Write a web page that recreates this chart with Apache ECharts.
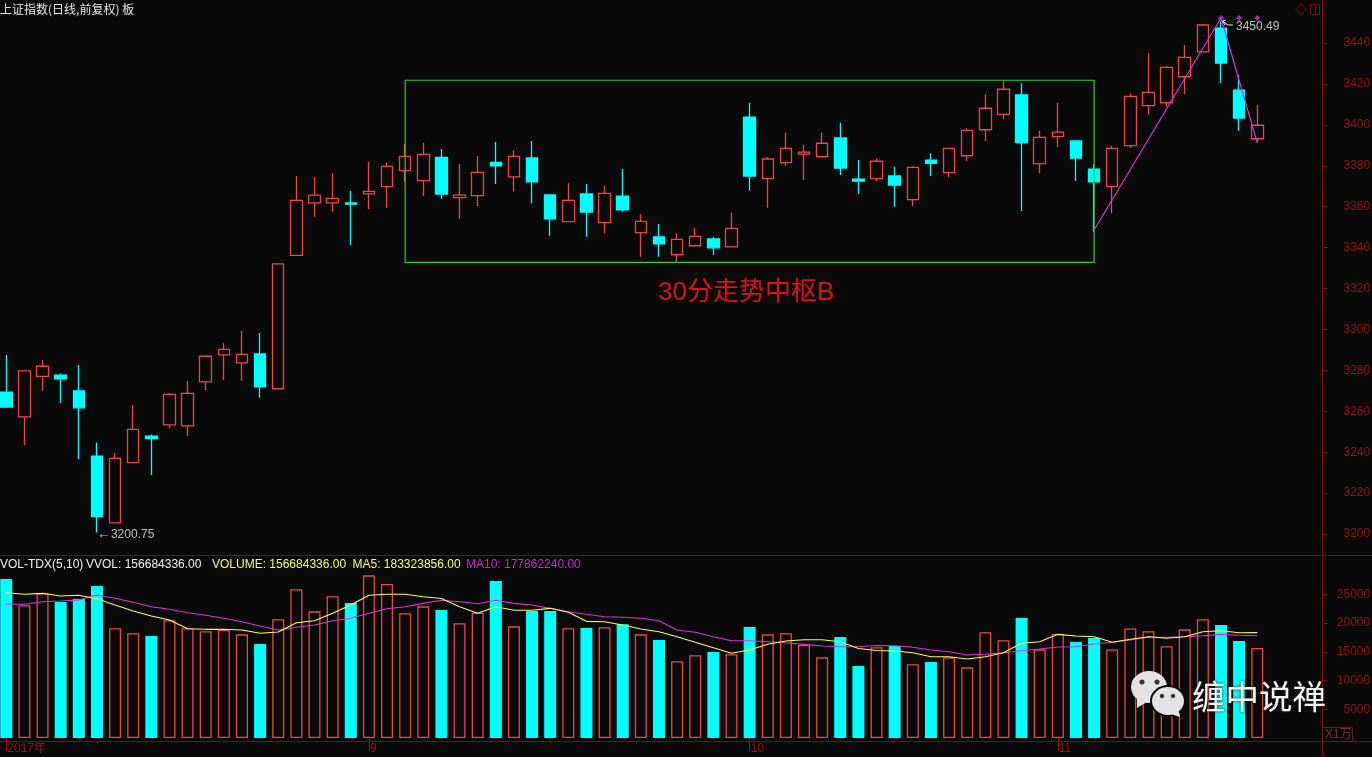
<!DOCTYPE html>
<html><head><meta charset="utf-8">
<style>html,body{margin:0;padding:0;background:#0a0a0a}#c{width:1372px;height:757px}</style>
<script src="https://cdn.jsdelivr.net/npm/echarts@6/dist/echarts.min.js"></script>
</head><body><div id="c"></div>
<script>
// ---- data ----
const opens=[3269.4,3257.3,3277.1,3277.7,3269.9,3238.1,3205.5,3234.9,3247.9,3253.4,3252.9,3274.4,3287.6,3283.7,3288,3271,3336.2,3361.9,3361.9,3361.8,3366.3,3369.8,3377.6,3372.7,3384.1,3364.4,3365.4,3381.7,3374.6,3383.8,3365.7,3352.7,3366.2,3352.2,3365.2,3347.3,3345.2,3336.5,3340.9,3344.2,3340.4,3403.8,3373.7,3381.5,3385.7,3384.4,3393.6,3373.5,3373.7,3375,3363.4,3382.8,3376.6,3384.9,3397.6,3405.1,3414.6,3381,3394.2,3392.1,3378.4,3369.8,3389.8,3409.4,3410.8,3423.5,3435.7,3447.3,3417,3393.2];
const closes=[3262.1,3279.7,3282,3275.8,3261.7,3208.5,3237,3251.2,3246.6,3268.3,3268.8,3286.9,3290.3,3287.8,3272,3332,3363.1,3365.6,3364.1,3361.3,3367.5,3379.7,3384.6,3385.6,3366.2,3365.6,3376.8,3379.9,3384.6,3372.1,3354,3363.1,3357.4,3366.5,3358.4,3352.8,3341.8,3344,3345.5,3339.9,3349.4,3375,3383.3,3388.5,3386.7,3391,3378.9,3372.5,3382.2,3370.6,3379.2,3381.2,3388.5,3397.3,3408.1,3417.4,3391.3,3393.9,3396.4,3383.8,3372.1,3388.5,3413.9,3415.9,3428.1,3433,3448.8,3430.2,3403.3,3399.8];
const lows=[3261.7,3243.5,3270,3264.2,3236.7,3200.75,3205.5,3234.9,3228.8,3251.7,3247.9,3270.4,3275.3,3274.9,3266.6,3271,3336.2,3355.1,3357.5,3341.3,3358.9,3359.5,3372.2,3365.2,3363.9,3354,3360.3,3371.1,3367.3,3361.6,3345.8,3352.7,3345.3,3347,3357.5,3335.5,3335.5,3332.8,3340.9,3336.4,3340.4,3367.8,3359.5,3379.9,3373,3384.4,3375.5,3366.2,3372.5,3360,3360.3,3375,3374.4,3382.3,3392.1,3402.7,3357.9,3376.3,3389,3372.5,3347.8,3356.8,3388.8,3405.1,3408.9,3415.1,3435.7,3420.6,3397.1,3391.3];
const highs=[3287.5,3279.9,3285.1,3278.5,3282.6,3244.8,3239.7,3263.1,3248.7,3269.1,3274.8,3287.2,3293.2,3299.2,3298.2,3332,3375,3374.4,3376.3,3367.7,3382,3381.5,3390.6,3391.1,3388.2,3380.9,3384.8,3391.6,3387.6,3392.1,3366,3371.4,3371.1,3370.2,3378.4,3356.3,3351.5,3347,3349.7,3345.3,3357,3410.8,3384.3,3396.2,3390.1,3396.2,3401,3382.8,3383.6,3379.5,3379.9,3386.1,3388.5,3398.3,3414.9,3421.4,3420.3,3397.1,3410.8,3392.1,3380.7,3389.7,3415.1,3435,3428.8,3439,3449.3,3450.49,3424.4,3409.7];
const volumes=[27650,23080,25160,23650,24170,26430,19080,18210,17740,20470,19080,18560,18780,18030,16350,20640,25860,22030,24640,23480,28290,26780,21690,22900,22260,19950,21790,27300,19420,22090,22090,19080,19130,19250,19770,18030,17040,13340,14380,14960,14560,19300,18030,18210,16170,14030,17560,12520,15770,16000,12820,13220,14030,12290,18380,16990,20870,15420,18090,16690,17390,15390,19040,18560,15950,18900,20640,19650,16870,15668];
const ma5=[25270,24990,25160,24690,24820,24220,23130,22090,21220,20520,19010,18900,18900,18780,18210,18430,20050,20400,21690,23130,24820,24990,24990,24570,24260,22830,21690,22830,22210,22210,22550,21860,20290,20220,19650,18960,18490,17620,16640,15700,14730,15300,16290,16870,17090,17090,16750,15560,15220,15130,14830,14140,14140,13740,14140,14830,16470,16750,18030,17740,17620,16640,17160,17620,17340,17620,18490,18660,18310,18332];
const ma10=[23250,23250,23700,23820,24000,24870,24290,23600,22830,22380,21790,21340,20820,20220,19480,18780,19250,19650,20400,20820,21690,22490,22830,23420,23950,23700,23360,23950,23420,23130,22550,21960,21510,21090,20990,20820,20400,18780,18380,17620,16920,16920,16750,16570,16290,16000,15880,15880,16090,16050,15770,15300,15010,14430,14560,14830,15180,15480,15820,15880,16350,16660,17040,17510,17510,17620,17790,18030,17860,17786];
const priceTicks=[3200,3220,3240,3260,3280,3300,3320,3340,3360,3380,3400,3420,3440];
const volumeTicks=[5000,10000,15000,20000,25000];
const monthLabels={0:'2017年',20:'9',41:'10',58:'11'};
const weekTicks=[5,10,15,25,30,36,45,49,54,63];
const zigzag=[[60,3348.6],[67,3452.2],[69,3391.3]];
const signals=[[67,3452.2],[68,3452.2],[69,3452.2]];
const lowNote=[5,3200.75], highNote=[67,3450.49];
const boxX=[22,60], boxY=[3332.8,3421.8];
const slots=Array.from({length:73},(_,i)=>'d'+i);   // 70 sessions plus 3 empty slots on the right

// ---- styles ----
const BG='#0a0a0a',RED='#ee4646',CYAN='#00ffff',AXIS='#860808',LAB='#981010',LATIN='"Liberation Sans","Noto Sans CJK SC",sans-serif';
const L=-2.77,W=1323.49;
const candles=opens.map((o,i)=>[o,closes[i],lows[i],highs[i]]);
const volBars=volumes.map((v,i)=>{
  const up=closes[i]>opens[i];
  return {value:v,itemStyle:{color:up?BG:CYAN,borderColor:up?RED:CYAN,borderWidth:1.3}};
});
const T=(text,x,y,fill,font,extra)=>({type:'text',silent:true,z:50,style:Object.assign({text,x,y,fill,font:font||('12px '+LATIN),verticalAlign:'middle',align:'left'},extra||{})});
const line=(x1,y1,x2,y2,c)=>({type:'line',silent:true,z:40,shape:{x1,y1,x2,y2},style:{stroke:c||AXIS,lineWidth:1}});
const ell=(cx,cy,rx,ry,fill,stroke)=>({type:'ellipse',silent:true,z:60,shape:{cx,cy,rx,ry},style:{fill,stroke:stroke||null,lineWidth:stroke?2:0}});
const poly=(pts,fill)=>({type:'polygon',silent:true,z:60,shape:{points:pts},style:{fill}});
const ICON='#e3e3e3';
const graphic=[
  line(0,555.5,1372,555.5),line(0,741.5,1372,741.5),line(1322.5,0,1322.5,757),
  T('上证指数(日线,前复权) 板',0,9,'#e6e6e6','12px "Noto Sans CJK SC"'),
  T('VOL-TDX(5,10)',0,564.5,'#f0f0f0'),T('VVOL: 156684336.00',86,564.5,'#f0f0f0'),
  T('VOLUME: 156684336.00',212,564.5,'#ffff50'),T('MA5: 183323856.00',352.5,564.5,'#ffff50'),
  T('MA10: 177862240.00',466,564.5,'#c828c8'),
  T('30分走势中枢B',658,292.5,'#e01010','26px '+LATIN),
  {type:'polygon',silent:true,z:50,shape:{points:[[1301,4],[1306,9.5],[1301,15],[1296,9.5]]},style:{fill:'none',stroke:'#6a1010',lineWidth:1}},
  {type:'rect',silent:true,z:50,shape:{x:1310.5,y:4.5,width:9,height:10},style:{fill:'none',stroke:'#6a1010',lineWidth:1}},
  line(1315.5,4.5,1315.5,14.5,'#6a1010'),
  {type:'rect',silent:true,z:45,shape:{x:1322.5,y:727.5,width:30,height:14},style:{fill:'none',stroke:'#5a2020',lineWidth:1}},
  T('X1万',1325,735,'#7a2c2c','12px '+LATIN),
  ell(1149,687,18,16,ICON),poly([[1137,697],[1137,708],[1147,702]],ICON),
  ell(1168,701,17,15,ICON,BG),poly([[1171,714],[1180,717],[1178,708]],ICON),
  ell(1142,682,2.6,2.6,'#333'),ell(1157,682,2.6,2.6,'#333'),
  ell(1162,696,2.2,2.2,'#333'),ell(1173,696,2.2,2.2,'#333'),
  T('缠中说禅',1192,696,'#f6f6f6','33.5px "Noto Sans CJK SC"',{textShadowColor:'#222',textShadowBlur:3}),
  // slanted arrow of the high-price note
  {type:'polyline',silent:true,z:30,shape:{points:[[1233,25],[1228,25],[1223,21.5]]},style:{fill:'none',stroke:'#e8e8e8',lineWidth:1}},
  {type:'polyline',silent:true,z:30,shape:{points:[[1226,20],[1222.5,21],[1225,25]]},style:{fill:'none',stroke:'#e8e8e8',lineWidth:1}}
];

const chart=echarts.init(document.getElementById('c'),null,{renderer:'canvas'});
chart.setOption({
  animation:false,backgroundColor:BG,graphic,
  grid:[{left:L,width:W,top:2.08,height:552.42,outerBoundsMode:'none'},{left:L,width:W,top:554,height:184,outerBoundsMode:'none'}],
  xAxis:[
    {type:'category',data:slots,gridIndex:0,axisLine:{show:false},axisTick:{show:false},axisLabel:{show:false},splitLine:{show:false}},
    {type:'category',data:slots,gridIndex:1,offset:3,axisLine:{show:false},
     axisTick:{show:true,alignWithLabel:true,length:13,interval:i=>monthLabels[i]!==undefined,lineStyle:{color:'#a01010'}},
     axisLabel:{interval:i=>monthLabels[i]!==undefined,formatter:(v,i)=>monthLabels[i]||'',align:'left',margin:2,color:LAB,fontSize:12,fontFamily:LATIN,padding:[0,0,0,1]},splitLine:{show:false}},
    {type:'category',data:slots,gridIndex:1,position:'bottom',offset:3,axisLine:{show:false},
     axisTick:{show:true,alignWithLabel:true,length:2,interval:i=>weekTicks.includes(i),lineStyle:{color:AXIS}},axisLabel:{show:false},splitLine:{show:false}}
  ],
  yAxis:[
    {type:'value',gridIndex:0,position:'right',min:3190,max:3460,offset:2,axisLine:{show:false},
     axisTick:{show:true,length:5,customValues:priceTicks,lineStyle:{color:AXIS}},
     axisLabel:{customValues:priceTicks,formatter:v=>String(v),align:'right',margin:47.5,padding:[2,0,0,0],color:LAB,fontSize:12,fontFamily:LATIN},splitLine:{show:false}},
    {type:'value',gridIndex:1,position:'right',min:0,max:32000,offset:2,axisLine:{show:false},
     axisTick:{show:true,length:5,customValues:volumeTicks,lineStyle:{color:AXIS}},
     axisLabel:{customValues:volumeTicks,formatter:v=>String(v),align:'right',margin:47.5,padding:[1,0,0,0],color:LAB,fontSize:12,fontFamily:LATIN},splitLine:{show:false}}
  ],
  series:[
    {name:'K',type:'candlestick',xAxisIndex:0,yAxisIndex:0,data:candles,barWidth:12,z:3,
     itemStyle:{color:BG,color0:CYAN,borderColor:RED,borderColor0:CYAN,borderWidth:1.3}},
    {name:'zigzag',type:'line',xAxisIndex:0,yAxisIndex:0,data:zigzag,symbol:'none',z:6,lineStyle:{color:'#e030e0',width:1.2},
     markArea:{silent:true,z:5,itemStyle:{color:'rgba(0,0,0,0)',borderColor:'#2fd02f',borderWidth:1.2},
       data:[[{xAxis:slots[boxX[0]],yAxis:boxY[1]},{xAxis:slots[boxX[1]],yAxis:boxY[0]}]]}},
    {name:'signals',type:'scatter',xAxisIndex:0,yAxisIndex:0,data:signals,symbol:'diamond',symbolSize:6,z:7,itemStyle:{color:'#e020e0'}},
    {name:'notes',type:'scatter',xAxisIndex:0,yAxisIndex:0,symbolSize:0,z:8,silent:true,
     data:[
       {value:lowNote,label:{show:true,position:'right',distance:0,offset:[0,2],formatter:'{a|←}{b|'+lowNote[1].toFixed(2)+'}',rich:{a:{fontSize:14,color:'#e8e8e8',fontFamily:LATIN},b:{fontSize:12,color:'#e8e8e8',fontFamily:LATIN}}}},
       {value:highNote,label:{show:true,position:'right',distance:0,offset:[15,5],formatter:highNote[1].toFixed(2),color:'#e8e8e8',fontSize:12,fontFamily:LATIN}}
     ]},
    {name:'VOL',type:'bar',xAxisIndex:1,yAxisIndex:1,data:volBars,barWidth:12,z:3},
    {name:'MA5',type:'line',xAxisIndex:1,yAxisIndex:1,data:ma5,symbol:'none',z:6,lineStyle:{color:'#ffff40',width:1.1}},
    {name:'MA10',type:'line',xAxisIndex:1,yAxisIndex:1,data:ma10,symbol:'none',z:5,lineStyle:{color:'#e030e0',width:1.1}}
  ]
});
</script></body></html>
